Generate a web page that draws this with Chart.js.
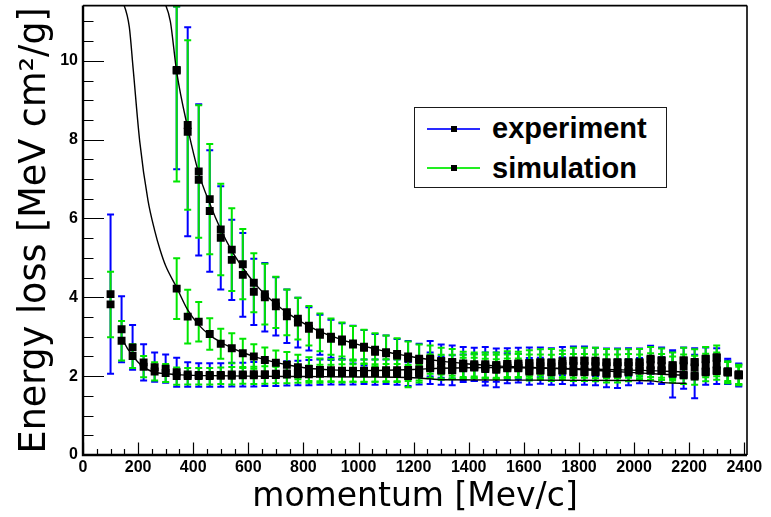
<!DOCTYPE html>
<html>
<head>
<meta charset="utf-8">
<script src="https://cdn.jsdelivr.net/npm/chart.js@4.4.1/dist/chart.umd.min.js"></script>
<style>
  html, body { margin: 0; padding: 0; background: #fff; }
  #wrap { position: relative; width: 771px; height: 517px; }
  #legend { position: absolute; left: 414px; top: 107px; width: 253px; height: 81px;
            border: 1.5px solid #1a1a1a; background: #fff; box-sizing: border-box; }
  .lline { position: absolute; left: 12px; width: 53px; height: 2px; }
  .lmark { position: absolute; left: 36px; width: 6px; height: 6px; background: #000; }
  .ltext { position: absolute; left: 77px; font: bold 29px "Liberation Sans", Arial, sans-serif;
           line-height: 29px; color: #000; white-space: nowrap; }
</style>
</head>
<body>
<div id="wrap">
  <canvas id="c" width="771" height="517"></canvas>
  <div id="legend">
    <div class="lline" style="top:20px;background:#2a2aff"></div>
    <div class="lmark" style="top:18px"></div>
    <div class="ltext" style="top:6px">experiment</div>
    <div class="lline" style="top:59px;background:#22ee22"></div>
    <div class="lmark" style="top:57px"></div>
    <div class="ltext" style="top:46px">simulation</div>
  </div>
</div>
<script>
// Momentum bins [MeV/c]
const momentum = [
  100, 140, 180, 220, 260, 300, 340, 380, 420, 460,
  500, 540, 580, 620, 660, 700, 740, 780, 820, 860,
  900, 940, 980, 1020, 1060, 1100, 1140, 1180, 1220, 1260,
  1300, 1340, 1380, 1420, 1460, 1500, 1540, 1580, 1620, 1660,
  1700, 1740, 1780, 1820, 1860, 1900, 1940, 1980, 2020, 2060,
  2100, 2140, 2180, 2220, 2260, 2300, 2340, 2380
];

// Measured energy loss [MeV cm^2/g] and errors, light-particle band
const expPion = [
  4.08, 3.19, 2.73, 2.35, 2.23, 2.19, 2.10, 2.04, 2.03, 2.03,
  2.03, 2.04, 2.04, 2.05, 2.05, 2.06, 2.07, 2.08, 2.09, 2.10,
  2.10, 2.11, 2.10, 2.11, 2.10, 2.11, 2.10, 2.05, 2.10, 2.20,
  2.14, 2.15, 2.20, 2.22, 2.18, 2.16, 2.20, 2.20, 2.12, 2.14,
  2.10, 2.14, 2.10, 2.10, 2.10, 2.06, 2.06, 2.10, 2.14, 2.14,
  2.14, 2.06, 2.02, 1.99, 2.10, 2.13, 2.10, 2.02
];
const expPionErr = [
  2.02, 0.84, 0.57, 0.46, 0.37, 0.36, 0.37, 0.31, 0.30, 0.30,
  0.30, 0.30, 0.30, 0.31, 0.30, 0.31, 0.31, 0.31, 0.32, 0.32,
  0.31, 0.32, 0.31, 0.31, 0.32, 0.31, 0.32, 0.30, 0.31, 0.40,
  0.36, 0.38, 0.35, 0.34, 0.42, 0.44, 0.38, 0.36, 0.34, 0.33,
  0.32, 0.34, 0.33, 0.32, 0.33, 0.34, 0.36, 0.33, 0.32, 0.33,
  0.34, 0.60, 0.34, 0.55, 0.32, 0.33, 0.30, 0.28
];
// Measured, heavy-particle band
const expProton = [
  null, null, null, null, null, null, 9.75, 8.20, 6.98, 6.19,
  5.51, 4.95, 4.57, 4.14, 4.00, 3.77, 3.52, 3.36, 3.20, 3.05,
  2.95, 2.88, 2.80, 2.72, 2.62, 2.58, 2.52, 2.45, 2.40, 2.44,
  2.38, 2.36, 2.32, 2.30, 2.30, 2.28, 2.31, 2.32, 2.33, 2.35,
  2.33, 2.38, 2.39, 2.39, 2.36, 2.35, 2.35, 2.35, 2.35, 2.42,
  2.40, 2.28, 2.40, 2.36, 2.43, 2.46, 2.12, 2.04
];
const expProtonErr = [
  null, null, null, null, null, null, 2.50, 2.65, 1.92, 1.54,
  1.31, 1.02, 1.06, 0.84, 0.87, 0.74, 0.68, 0.63, 0.55, 0.51,
  0.48, 0.46, 0.48, 0.45, 0.45, 0.45, 0.42, 0.44, 0.42, 0.45,
  0.42, 0.42, 0.42, 0.42, 0.44, 0.42, 0.40, 0.40, 0.40, 0.38,
  0.38, 0.36, 0.36, 0.36, 0.36, 0.35, 0.35, 0.36, 0.35, 0.35,
  0.33, 0.33, 0.33, 0.35, 0.30, 0.25, 0.32, 0.28
];

// Simulated energy loss, three particle bands
const simPion = [
  3.82, 2.90, 2.51, 2.24, 2.12, 2.08, 2.00, 2.00, 2.00, 2.00,
  2.01, 2.01, 2.02, 2.02, 2.03, 2.03, 2.04, 2.05, 2.05, 2.06,
  2.07, 2.07, 2.08, 2.08, 2.08, 2.08, 2.08, 2.00, 2.06, 2.22,
  2.16, 2.16, 2.21, 2.23, 2.20, 2.18, 2.21, 2.21, 2.14, 2.15,
  2.12, 2.15, 2.12, 2.12, 2.12, 2.08, 2.08, 2.12, 2.15, 2.15,
  2.15, 2.08, 2.04, 2.02, 2.12, 2.15, 2.12, 2.04
];
const simPionErr = [
  0.83, 0.50, 0.30, 0.27, 0.23, 0.23, 0.22, 0.21, 0.21, 0.21,
  0.21, 0.22, 0.21, 0.22, 0.22, 0.21, 0.22, 0.22, 0.22, 0.23,
  0.22, 0.23, 0.22, 0.23, 0.22, 0.23, 0.23, 0.28, 0.22, 0.26,
  0.25, 0.24, 0.26, 0.24, 0.24, 0.25, 0.24, 0.24, 0.25, 0.24,
  0.24, 0.25, 0.24, 0.24, 0.25, 0.24, 0.24, 0.25, 0.24, 0.24,
  0.25, 0.24, 0.24, 0.24, 0.25, 0.24, 0.24, 0.24
];
const simKaon = [
  null, null, null, null, null, null, 4.22, 3.51, 3.38, 3.07,
  2.82, 2.71, 2.58, 2.50, 2.41, 2.34, 2.29, 2.23, 2.18, 2.16,
  2.15, 2.14, 2.14, 2.14, 2.14, 2.15, 2.15, 2.16, 2.17, 2.25,
  2.24, 2.24, 2.24, 2.25, 2.24, 2.24, 2.25, 2.26, 2.25, 2.25,
  2.24, 2.26, 2.26, 2.26, 2.25, 2.25, 2.25, 2.26, 2.25, 2.28,
  2.26, 2.20, 2.25, 2.22, 2.27, 2.30, 2.10, 2.03
];
const simKaonErr = [
  null, null, null, null, null, null, 0.77, 0.68, 0.50, 0.40,
  0.38, 0.38, 0.37, 0.31, 0.32, 0.31, 0.32, 0.31, 0.30, 0.29,
  0.28, 0.28, 0.28, 0.28, 0.28, 0.28, 0.28, 0.28, 0.28, 0.30,
  0.30, 0.30, 0.30, 0.30, 0.30, 0.30, 0.30, 0.30, 0.30, 0.30,
  0.30, 0.30, 0.30, 0.30, 0.30, 0.30, 0.30, 0.30, 0.30, 0.30,
  0.30, 0.30, 0.30, 0.30, 0.30, 0.30, 0.28, 0.26
];
const simProton = [
  null, null, null, null, null, null, 9.77, 8.37, 7.19, 6.49,
  5.72, 5.21, 4.84, 4.37, 4.08, 3.87, 3.62, 3.46, 3.28, 3.11,
  3.00, 2.93, 2.83, 2.75, 2.67, 2.61, 2.56, 2.50, 2.44, 2.42,
  2.38, 2.35, 2.30, 2.28, 2.28, 2.28, 2.30, 2.30, 2.33, 2.35,
  2.35, 2.31, 2.39, 2.39, 2.39, 2.35, 2.35, 2.35, 2.35, 2.44,
  2.40, 2.27, 2.40, 2.35, 2.44, 2.48, 2.10, 2.02
];
const simProtonErr = [
  null, null, null, null, null, null, 2.83, 2.15, 1.68, 1.40,
  1.16, 1.05, 0.89, 0.75, 0.77, 0.65, 0.58, 0.53, 0.50, 0.48,
  0.46, 0.43, 0.44, 0.43, 0.42, 0.42, 0.40, 0.38, 0.36, 0.36,
  0.34, 0.34, 0.32, 0.32, 0.32, 0.32, 0.33, 0.32, 0.33, 0.33,
  0.34, 0.34, 0.33, 0.33, 0.33, 0.34, 0.33, 0.33, 0.34, 0.30,
  0.30, 0.33, 0.32, 0.33, 0.30, 0.30, 0.26, 0.22
];

// Expected energy-loss curves (momentum, dE/dx)
const pionCurveP = [140, 160, 180, 200, 220, 240, 260, 300, 340, 400, 500, 600, 800, 1000, 1200, 1260, 1300, 1600, 2000, 2060, 2120, 2190];
const pionCurveV = [2.98, 2.72, 2.52, 2.35, 2.23, 2.15, 2.10, 2.06, 2.04, 2.02, 2.01, 2.00, 1.99, 1.98, 1.96, 1.93, 1.91, 1.90, 1.89, 1.88, 1.83, 1.82];
const kaonCurveP = [140, 168, 182, 206, 236, 260, 280, 300, 340, 380, 420, 460, 500, 540, 580, 620, 660, 700, 740, 780, 820, 900, 1000, 1100, 1200, 1300, 1500, 1700, 1900, 2100, 2190];
const kaonCurveV = [11.6, 10.86, 9.8, 7.95, 6.45, 5.7, 5.2, 4.8, 4.25, 3.68, 3.30, 3.04, 2.86, 2.72, 2.6, 2.5, 2.42, 2.35, 2.29, 2.24, 2.2, 2.16, 2.14, 2.15, 2.17, 2.2, 2.22, 2.2, 2.17, 2.13, 2.1];
const protonCurveP = [290, 317, 340, 380, 420, 460, 500, 540, 580, 620, 660, 700, 740, 780, 820, 860, 900, 940, 980, 1020, 1060, 1100, 1140, 1180, 1220, 1300, 1400, 1500, 1600, 1700, 1800, 1900, 2000, 2100, 2190];
const protonCurveV = [11.6, 11.0, 9.72, 8.3, 7.15, 6.38, 5.72, 5.18, 4.75, 4.38, 4.08, 3.83, 3.61, 3.43, 3.27, 3.13, 3.02, 2.92, 2.84, 2.76, 2.69, 2.62, 2.56, 2.51, 2.46, 2.38, 2.31, 2.26, 2.23, 2.2, 2.17, 2.13, 2.09, 2.05, 2.02];

// Axis tick labels
const xTickLabels = [0, 200, 400, 600, 800, 1000, 1200, 1400, 1600, 1800, 2000, 2200, 2400];
const yTickLabels = [0, 2, 4, 6, 8, 10];

const EXP_COLOR = '#0000ff';
const SIM_COLOR = '#00e600';

function points(vals) {
  const out = [];
  momentum.forEach((p, i) => { if (vals[i] != null) out.push({ x: p, y: vals[i] }); });
  return out;
}
function curve(ps, vs) { return ps.map((p, i) => ({ x: p, y: vs[i] })); }

const errorSeries = [
  { vals: expPion, errs: expPionErr, color: EXP_COLOR },
  { vals: expProton, errs: expProtonErr, color: EXP_COLOR },
  { vals: simPion, errs: simPionErr, color: SIM_COLOR },
  { vals: simKaon, errs: simKaonErr, color: SIM_COLOR },
  { vals: simProton, errs: simProtonErr, color: SIM_COLOR }
];

// Vertical error bars with end caps, drawn under the markers
const errorBars = {
  id: 'errorBars',
  beforeDatasetsDraw(chart) {
    const { ctx, chartArea: a, scales: { x, y } } = chart;
    ctx.save();
    ctx.beginPath();
    ctx.rect(a.left, a.top, a.right - a.left, a.bottom - a.top);
    ctx.clip();
    ctx.lineWidth = 2;
    errorSeries.forEach(s => {
      ctx.strokeStyle = s.color;
      momentum.forEach((p, i) => {
        const v = s.vals[i], e = s.errs[i];
        if (v == null || e == null) return;
        const px = x.getPixelForValue(p);
        let yt = y.getPixelForValue(v + e);
        const yb = y.getPixelForValue(v - e);
        if (yt < a.top) yt = a.top + 1;
        ctx.beginPath();
        ctx.moveTo(px, yt); ctx.lineTo(px, yb);
        ctx.moveTo(px - 3.5, yt); ctx.lineTo(px + 3.5, yt);
        ctx.moveTo(px - 3.5, yb); ctx.lineTo(px + 3.5, yb);
        ctx.stroke();
      });
    });
    ctx.restore();
  }
};

// Frame with inward major/minor ticks
const frameTicks = {
  id: 'frameTicks',
  afterDraw(chart) {
    const { ctx, chartArea: a, scales: { x, y } } = chart;
    ctx.save();
    ctx.strokeStyle = '#000';
    ctx.lineWidth = 1.2;
    ctx.beginPath();
    for (let k = 0; k * 0.5 <= y.max; k++) {
      const py = Math.round(y.getPixelForValue(k * 0.5)) + 0.5;
      const len = (k % 4 === 0) ? 21 : 10.5;
      ctx.moveTo(a.left, py); ctx.lineTo(a.left + len, py);
    }
    for (let k = 0; k * 50 <= x.max; k++) {
      const px = Math.round(x.getPixelForValue(k * 50)) + 0.5;
      const len = (k % 4 === 0) ? 12.5 : 6;
      ctx.moveTo(px, a.bottom); ctx.lineTo(px, a.bottom - len);
    }
    ctx.stroke();
    ctx.lineWidth = 1.6;
    ctx.beginPath();
    ctx.moveTo(a.left, a.top); ctx.lineTo(a.right, a.top);
    ctx.moveTo(a.right, a.top); ctx.lineTo(a.right, a.bottom);
    ctx.stroke();
    ctx.lineWidth = 2.4;
    ctx.beginPath();
    ctx.moveTo(a.left, a.top); ctx.lineTo(a.left, a.bottom);
    ctx.lineTo(a.right, a.bottom);
    ctx.stroke();
    ctx.restore();
  }
};

const markerStyle = { showLine: false, pointStyle: 'rect', pointRadius: 5.6, pointHoverRadius: 5.6,
                      backgroundColor: '#000', borderColor: '#000', borderWidth: 0, order: 0 };
const curveStyle = { showLine: true, borderColor: '#000', borderWidth: 1.4, pointRadius: 0,
                     cubicInterpolationMode: 'monotone', fill: false, order: 1 };

new Chart(document.getElementById('c'), {
  type: 'scatter',
  data: {
    datasets: [
      Object.assign({ label: 'experiment', data: points(expPion) }, markerStyle),
      Object.assign({ label: 'experiment', data: points(expProton) }, markerStyle),
      Object.assign({ label: 'simulation', data: points(simPion) }, markerStyle),
      Object.assign({ label: 'simulation', data: points(simKaon) }, markerStyle),
      Object.assign({ label: 'simulation', data: points(simProton) }, markerStyle),
      Object.assign({ label: 'pion', data: curve(pionCurveP, pionCurveV) }, curveStyle),
      Object.assign({ label: 'kaon', data: curve(kaonCurveP, kaonCurveV) }, curveStyle),
      Object.assign({ label: 'proton', data: curve(protonCurveP, protonCurveV) }, curveStyle)
    ]
  },
  options: {
    responsive: false,
    animation: false,
    events: [],
    layout: { padding: { top: 3, right: 24, left: 0, bottom: 0 } },
    plugins: { legend: { display: false }, tooltip: { enabled: false } },
    scales: {
      x: {
        type: 'linear', min: 0, max: 2410,
        afterFit: s => { s.height = 62; s.paddingLeft = 0; s.paddingRight = 0; },
        afterBuildTicks: s => { s.ticks = xTickLabels.map(v => ({ value: v })); },
        grid: { display: false, drawTicks: false },
        border: { display: false },
        ticks: { color: '#000', padding: 3, maxRotation: 0, autoSkip: false,
                 callback: v => String(v),
                 font: { family: "'Liberation Sans', Arial, sans-serif", weight: 'bold', size: 16 } },
        title: { display: true, text: 'momentum [Mev/c]', color: '#000',
                 font: { family: "'DejaVu Sans', sans-serif", size: 33, lineHeight: 1.2 },
                 padding: { top: 0, bottom: 0 } }
      },
      y: {
        type: 'linear', min: 0, max: 11.4,
        afterFit: s => { s.width = 83; s.paddingTop = 0; s.paddingBottom = 0; },
        afterBuildTicks: s => { s.ticks = yTickLabels.map(v => ({ value: v })); },
        grid: { display: false, drawTicks: false },
        border: { display: false },
        ticks: { color: '#000', padding: 5,
                 callback: v => String(v),
                 font: { family: "'Liberation Sans', Arial, sans-serif", weight: 'bold', size: 16 } },
        title: { display: true, text: 'Energy loss [MeV cm²/g]', color: '#000',
                 font: { family: "'DejaVu Sans', sans-serif", size: 36.5, lineHeight: 1.2 },
                 padding: { top: 14, bottom: 0 } }
      }
    }
  },
  plugins: [errorBars, frameTicks]
});
</script>
</body>
</html>
